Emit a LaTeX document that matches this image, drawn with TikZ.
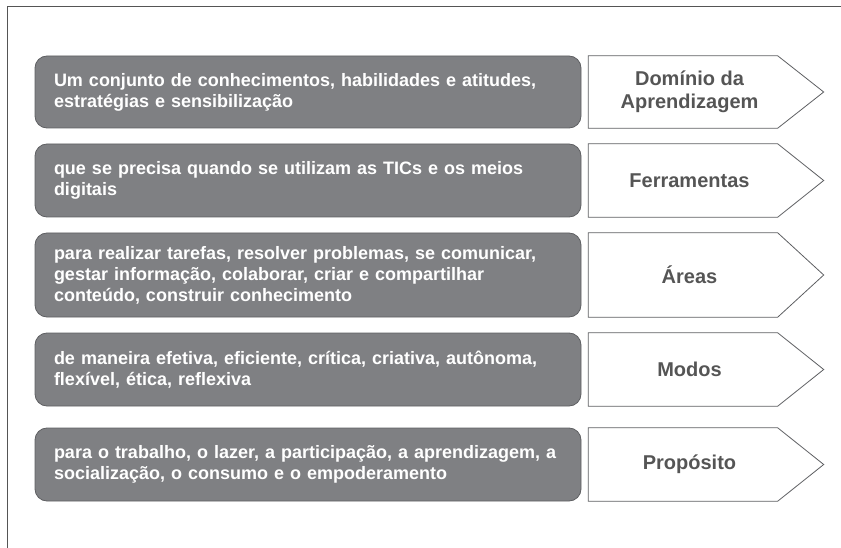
\documentclass[tikz,border=0pt]{standalone}
\usepackage{fontspec}
\setmainfont{Liberation Sans}

\definecolor{boxgray}{HTML}{7F8083}
\definecolor{boxline}{HTML}{5E5F62}
\definecolor{tagtext}{HTML}{555555}
\definecolor{frameline}{HTML}{555555}

\tikzset{
  graybox/.style={draw=boxline, fill=boxgray, rounded corners=12pt, line width=0.8pt,
    minimum width=546pt, text width=508pt, align=left, inner sep=0pt,
    text=white, font=\bfseries\fontsize{18}{21}\selectfont},
  tagbox/.style={minimum width=177pt, inner sep=0pt, align=center,
    text=tagtext, font=\bfseries\fontsize{20}{23.5}\selectfont},
  tagline/.style={draw=boxline, line width=0.8pt},
}

\begin{document}
\begin{tikzpicture}[x=1pt, y=-1pt]
  \useasboundingbox (0,0) rectangle (841,548); % tamanho da figura
  \draw[frameline, line width=0.8pt] (7,548) -- (7,6) -- (841,6); % moldura

  % caixas cinzas
  \node[graybox, minimum height=72pt] (conj) at (308,92) {Um conjunto de conhecimentos, habilidades e atitudes,\\estratégias e sensibilização};
  \node[graybox, minimum height=73pt] (prec) at (308,180.5) {que se precisa quando se utilizam as TICs e os meios\\digitais};
  \node[graybox, minimum height=84pt] (real) at (308,275) {para realizar tarefas, resolver problemas, se comunicar,\\gestar informação, colaborar, criar e compartilhar\\conteúdo, construir conhecimento};
  \node[graybox, minimum height=73pt] (mane) at (308,369.5) {de maneira efetiva, eficiente, crítica, criativa, autônoma,\\flexível, ética, reflexiva};
  \node[graybox, minimum height=73pt] (trab) at (308,464.5) {para o trabalho, o lazer, a participação, a aprendizagem, a\\socialização, o consumo e o empoderamento};

  % rótulos das setas
  \node[tagbox, minimum height=72pt] (dom) at (689.5,92) {Domínio da\\Aprendizagem};
  \node[tagbox, minimum height=73pt] (ferr) at (689.5,180.5) {Ferramentas};
  \node[tagbox, minimum height=84pt] (area) at (689.5,275) {Áreas};
  \node[tagbox, minimum height=73pt] (modo) at (689.5,369.5) {Modos};
  \node[tagbox, minimum height=73pt] (prop) at (689.5,464.5) {Propósito};

  % contorno das setas
  \foreach \n in {dom,ferr,area,modo,prop}
    \draw[tagline] ([xshift=-12.5pt]\n.north west) -- ([xshift=-0.5pt]\n.north east)
      -- ([xshift=45.5pt]\n.east) -- ([xshift=-0.5pt]\n.south east) -- ([xshift=-12.5pt]\n.south west) -- cycle;
\end{tikzpicture}
\end{document}
